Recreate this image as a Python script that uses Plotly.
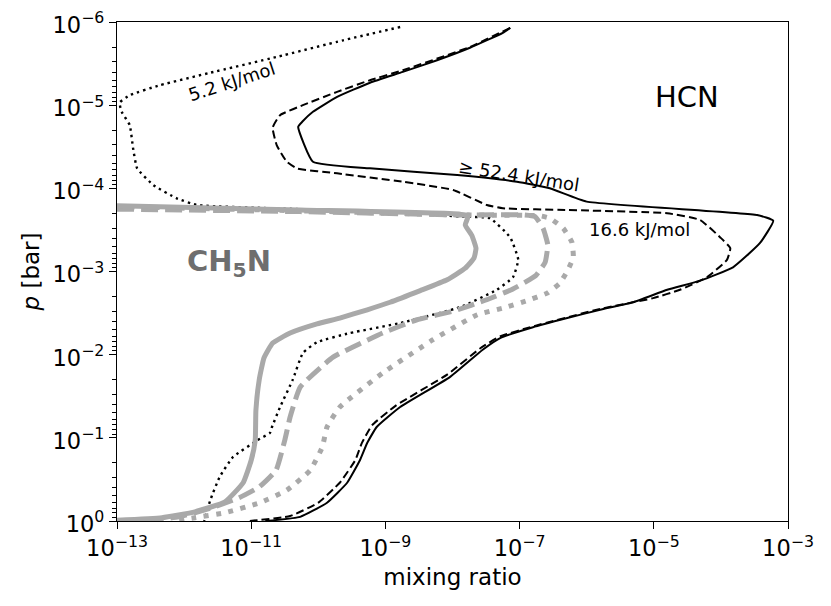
import numpy as np
import plotly.graph_objects as go

# Curves, as log10(mixing ratio) and log10(p / bar)
hcn_52_logx = [-7.14, -7.25, -7.74, -8.23, -8.74, -9.23, -9.72, -10.08, -10.24, -10.30, -10.08,
               -9.23, -7.93, -7.04, -6.55, -6.00, -3.46, -3.22, -3.42, -3.82, -4.31, -4.80, -5.31,
               -5.80, -6.29, -6.80, -7.29, -7.55, -8.04, -8.78, -9.13, -9.27, -9.38, -9.57, -9.87,
               -10.27, -10.79]
hcn_52_logp = [-5.93, -5.87, -5.69, -5.54, -5.40, -5.27, -5.10, -4.92, -4.80, -4.74, -4.32,
               -4.24, -4.16, -4.08, -4.00, -3.84, -3.68, -3.61, -3.34, -3.05, -2.89, -2.78, -2.63,
               -2.54, -2.44, -2.33, -2.20, -2.06, -1.73, -1.37, -1.13, -0.94, -0.73, -0.46, -0.22,
               -0.05, 0.0]

hcn_16_logx = [-7.14, -7.74, -8.74, -9.23, -9.72, -10.23, -10.57, -10.68, -10.62, -10.47, -10.32,
               -9.72, -8.74, -7.99, -7.49, -7.25, -6.29, -4.80, -4.31, -4.01, -3.86, -3.91, -4.21,
               -4.61, -5.01, -5.80, -6.80, -7.29, -7.58, -8.08, -8.84, -9.20, -9.35, -9.45, -9.68,
               -10.00, -10.42, -11.02]
hcn_16_logp = [-5.93, -5.70, -5.42, -5.30, -5.16, -5.00, -4.88, -4.73, -4.52, -4.32, -4.24,
               -4.18, -4.08, -3.98, -3.80, -3.76, -3.74, -3.70, -3.62, -3.41, -3.28, -3.14, -2.93,
               -2.78, -2.68, -2.55, -2.34, -2.22, -2.08, -1.76, -1.39, -1.15, -0.94, -0.73, -0.46,
               -0.22, -0.06, 0.0]

hcn_5_logx = [-8.78, -9.63, -10.62, -11.61, -12.36, -12.81, -12.96, -12.93, -12.81, -12.76, -12.70,
              -12.46, -12.11, -11.81, -10.27, -8.48, -7.89, -7.44, -7.14, -7.02, -7.10, -7.34,
              -7.89, -8.78, -9.53, -10.02, -10.23, -10.38, -10.57, -10.69, -10.72, -10.91, -11.27,
              -11.47, -11.61, -11.70]
hcn_5_logp = [-5.94, -5.78, -5.58, -5.39, -5.24, -5.12, -5.03, -4.92, -4.76, -4.48, -4.24,
              -4.04, -3.88, -3.80, -3.75, -3.70, -3.66, -3.64, -3.41, -3.14, -2.93, -2.78,
              -2.57, -2.38, -2.26, -2.15, -2.02, -1.70, -1.37, -1.13, -1.06, -0.97, -0.77,
              -0.53, -0.25, 0.0]

ch5n_52_logx = [-13.0, -10.27, -7.89, -7.77, -7.81, -7.71, -7.65, -7.68, -7.81, -8.08, -8.48,
                -8.93, -9.27, -9.68, -10.02, -10.42, -10.68, -10.81, -10.88, -10.93, -10.94,
                -11.00, -11.12, -11.39, -11.84, -12.33, -13.0]
ch5n_52_logp = [-3.79, -3.74, -3.69, -3.66, -3.56, -3.43, -3.28, -3.16, -3.04, -2.90, -2.77,
                -2.63, -2.54, -2.44, -2.37, -2.26, -2.14, -1.96, -1.70, -1.33, -0.97,
                -0.73, -0.46, -0.23, -0.11, -0.04, -0.01]

ch5n_16_logx = [-13.0, -10.27, -7.89, -6.95, -6.77, -6.65, -6.58, -6.62, -6.76, -7.10, -7.49,
                -7.96, -8.53, -9.04, -9.78, -10.27, -10.42, -10.50, -10.63, -10.88, -11.18,
                -11.58, -12.08, -12.66]
ch5n_16_logp = [-3.75, -3.72, -3.68, -3.68, -3.66, -3.52, -3.32, -3.11, -2.95, -2.79, -2.66,
                -2.53, -2.42, -2.26, -1.97, -1.61, -1.25, -0.97, -0.61, -0.41, -0.28,
                -0.16, -0.05, 0.0]

ch5n_5_logx = [-13.0, -10.27, -7.89, -6.70, -6.55, -6.35, -6.22, -6.20, -6.28, -6.40, -6.59,
               -6.89, -7.25, -7.63, -8.29, -9.04, -9.68, -9.87, -9.94, -10.12, -10.47, -10.87,
               -11.39, -11.84, -12.18]
ch5n_5_logp = [-3.78, -3.73, -3.68, -3.67, -3.64, -3.52, -3.35, -3.17, -3.02, -2.86, -2.74,
               -2.65, -2.56, -2.48, -2.18, -1.78, -1.37, -1.13, -0.89, -0.61, -0.37, -0.22,
               -0.10, -0.04, 0.0]

x_ticks = [1e-13, 1e-11, 1e-9, 1e-7, 1e-5, 1e-3]
x_ticktext = ["10<sup>−13</sup>", "10<sup>−11</sup>", "10<sup>−9</sup>",
              "10<sup>−7</sup>", "10<sup>−5</sup>", "10<sup>−3</sup>"]
y_ticks = [1e-6, 1e-5, 1e-4, 1e-3, 1e-2, 1e-1, 1e0]
y_ticktext = ["10<sup>−6</sup>", "10<sup>−5</sup>", "10<sup>−4</sup>", "10<sup>−3</sup>",
              "10<sup>−2</sup>", "10<sup>−1</sup>", "10<sup>0</sup>"]
y_minor = [k * 10.0 ** e for e in range(-6, 0) for k in range(2, 10)]

BLACK = "black"
GREY = "#a9a9a9"

fig = go.Figure()


def add_line(lx, lp, color, width, dash):
    fig.add_trace(go.Scatter(
        x=10 ** np.array(lx), y=10 ** np.array(lp), mode="lines",
        line=dict(color=color, width=width, dash=dash, shape="spline", smoothing=0.4),
        showlegend=False, hoverinfo="skip"))


# HCN (black) first, CH5N (grey) on top
add_line(hcn_5_logx, hcn_5_logp, BLACK, 2.4, "2.4px,4px")
add_line(hcn_16_logx, hcn_16_logp, BLACK, 2, "8px,4px")
add_line(hcn_52_logx, hcn_52_logp, BLACK, 2, "solid")
add_line(ch5n_5_logx, ch5n_5_logp, GREY, 5, "5px,7.5px")
add_line(ch5n_16_logx, ch5n_16_logp, GREY, 5, "17px,7px")
add_line(ch5n_52_logx, ch5n_52_logp, GREY, 5, "solid")

font = "DejaVu Sans"
# the page body adds 8px on the left and top, so the figure is 8px smaller
fig.update_layout(
    width=823, height=598,
    margin=dict(l=109, r=43, t=14, b=85),
    plot_bgcolor="white", paper_bgcolor="white",
    font=dict(family=font, color="black"),
    xaxis=dict(type="log", range=[-13, -3], showgrid=False, zeroline=False, automargin=False,
               showline=True, linecolor="black", linewidth=1.3, mirror=True,
               ticks="outside", ticklen=7, tickwidth=1.3, tickcolor="black",
               tickvals=x_ticks, ticktext=x_ticktext, tickfont=dict(size=22.5),
               ticklabeloverflow="allow",
               title=dict(text="mixing ratio", font=dict(size=23), standoff=8)),
    yaxis=dict(type="log", range=[0, -6], showgrid=False, zeroline=False, automargin=False,
               showline=True, linecolor="black", linewidth=1.3, mirror=True,
               ticks="outside", ticklen=7, tickwidth=1.3, tickcolor="black",
               tickvals=y_ticks, ticktext=y_ticktext, tickfont=dict(size=22.5),
               ticklabeloverflow="allow", ticklabelshift=-3,
               minor=dict(tickvals=y_minor, ticks="outside", ticklen=4, tickwidth=1,
                          tickcolor="black", showgrid=False),
               title=dict(text="<i>p</i> [bar]", font=dict(size=23), standoff=6)),
    annotations=[
        dict(x=-11.29, y=-5.28, xref="x", yref="y", text="5.2 kJ/mol", showarrow=False,
             textangle=-18, font=dict(size=18)),
        dict(x=-7.01, y=-4.16, xref="x", yref="y", text="≥ 52.4 kJ/mol", showarrow=False,
             textangle=9, font=dict(size=18)),
        dict(x=-5.21, y=-3.50, xref="x", yref="y", text="16.6 kJ/mol", showarrow=False,
             font=dict(size=18)),
        dict(x=-4.51, y=-5.10, xref="x", yref="y", text="HCN", showarrow=False,
             font=dict(size=29)),
        dict(x=-11.33, y=-3.10, xref="x", yref="y", text="<b>CH<sub>5</sub>N</b>",
             showarrow=False, font=dict(size=29, color="#6e6e6e")),
    ],
)

fig.write_html("out.html")
